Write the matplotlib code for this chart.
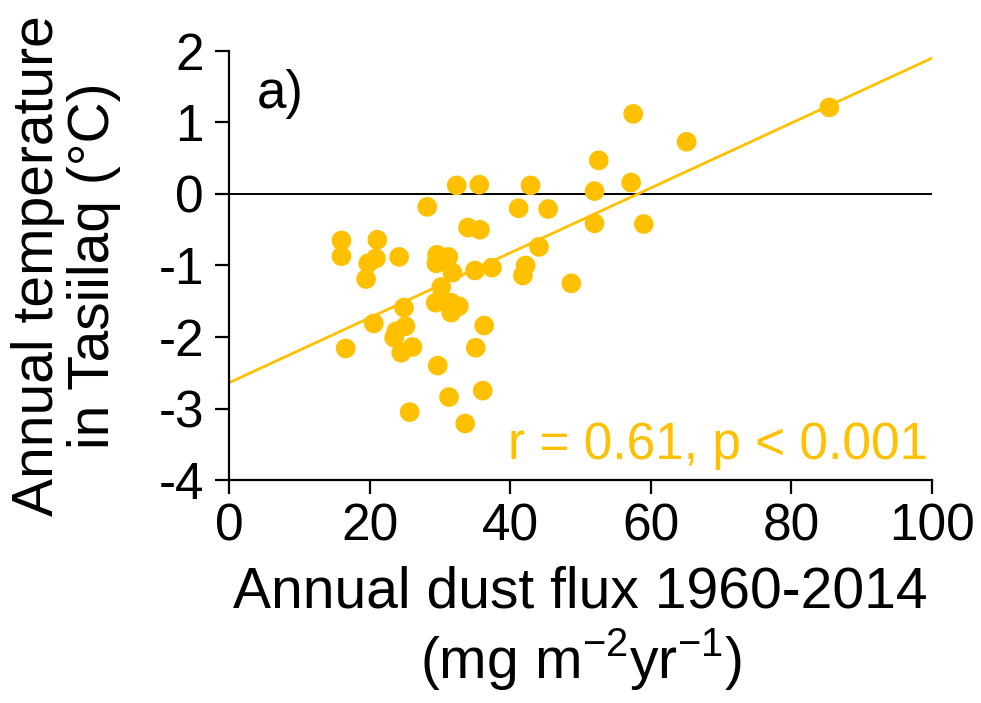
import numpy as np
import matplotlib
matplotlib.use("Agg")
import matplotlib.pyplot as plt

plt.rcParams["font.family"] = ["Liberation Sans", "DejaVu Sans"]
plt.rcParams["mathtext.fontset"] = "custom"
plt.rcParams["mathtext.rm"] = "Liberation Sans"
plt.rcParams["axes.unicode_minus"] = False

# annual dust flux (mg m-2 yr-1) and annual temperature in Tasiilaq (degC)
dust_flux = [32.4, 35.6, 42.9, 28.2, 41.2, 45.4, 34.0, 35.7, 16.0, 21.1,
             16.0, 44.1, 24.2, 20.9, 19.8, 29.6, 31.2, 29.5, 31.8, 35.0,
             37.4, 42.2, 41.8, 19.5, 30.2, 29.4, 31.6, 32.7, 31.6, 24.9,
             36.3, 20.6, 25.1, 23.8, 23.5, 16.6, 35.1, 26.1, 24.5, 29.7,
             36.1, 31.3, 25.7, 33.6, 85.4, 57.5, 65.1, 52.6, 57.2, 52.0,
             52.0, 59.0, 48.7]
temperature = [0.12, 0.13, 0.12, -0.18, -0.20, -0.21, -0.47, -0.50, -0.65, -0.64,
               -0.87, -0.74, -0.88, -0.90, -0.97, -0.85, -0.88, -0.97, -1.10, -1.07,
               -1.03, -1.00, -1.14, -1.19, -1.30, -1.52, -1.52, -1.57, -1.66, -1.59,
               -1.84, -1.81, -1.85, -1.92, -2.01, -2.16, -2.15, -2.14, -2.22, -2.40,
               -2.75, -2.84, -3.05, -3.21, 1.21, 1.12, 0.73, 0.47, 0.16, 0.04,
               -0.41, -0.42, -1.25]

# regression line as drawn in the figure
fit_x = [0, 100]
fit_y = [-2.64, 1.90]

gold = "#FFC000"

fig = plt.figure(figsize=(9.81, 7.03), dpi=100)
ax = fig.add_axes([0.2334, 0.3172, 0.7166, 0.6103])

ax.axhline(0, color="black", lw=1.4, zorder=1)
ax.plot(fit_x, fit_y, color=gold, lw=2.0, zorder=2)
ax.scatter(dust_flux, temperature, s=200, color=gold, edgecolors="none", zorder=3)

ax.set_xlim(0, 100)
ax.set_ylim(-4, 2)
ax.set_xticks(np.arange(0, 101, 20))
ax.set_yticks(np.arange(-4, 3, 1))

for side in ["top", "right"]:
    ax.spines[side].set_visible(False)
for side in ["left", "bottom"]:
    ax.spines[side].set_linewidth(1.6)
ax.tick_params(direction="out", length=10, width=1.6, labelsize=37)
ax.tick_params(axis="y", pad=8)
ax.tick_params(axis="x", pad=6)

ax.text(0.04, 0.90, "a)", transform=ax.transAxes, fontsize=38, va="center", ha="left")
ax.text(0.995, 0.05, "r = 0.61, p < 0.001", transform=ax.transAxes, fontsize=37,
        color=gold, ha="right", va="baseline")

ax.set_xlabel("Annual dust flux 1960-2014\n(mg m$^{-2}$yr$^{-1}$)", fontsize=41,
              linespacing=1.15, labelpad=10)
ax.set_ylabel("Annual temperature\nin Tasiilaq (°C)", fontsize=41, linespacing=1.05,
              labelpad=27)

fig.savefig("out.png", dpi=100)
